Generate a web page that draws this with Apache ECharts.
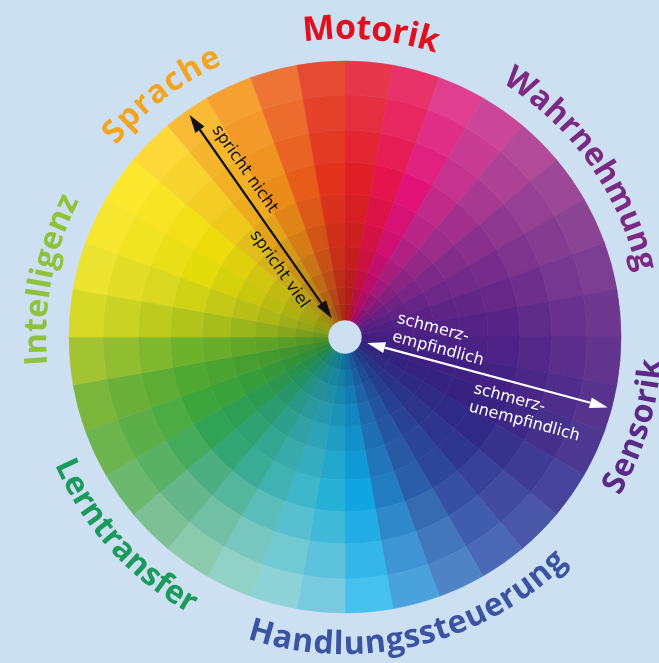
<!DOCTYPE html>
<html>
<head>
<meta charset="utf-8">
<script src="https://cdn.jsdelivr.net/npm/echarts@6/dist/echarts.min.js"></script>
<style>
html,body{margin:0;padding:0;background:#cde0f1;}
#wheel{width:659px;height:663px;}
</style>
</head>
<body>
<div id="wheel"></div>
<script>
// 36 Sektoren a 10 Grad, im Uhrzeigersinn ab 12 Uhr
var sectors = ['0','10','20','30','40','50','60','70','80','90','100','110',
    '120','130','140','150','160','170','180','190','200','210','220','230',
    '240','250','260','270','280','290','300','310','320','330','340','350'];
// Ringgrenzen (Radius), innen -> aussen
var ringEdges = [17, 33, 50, 68, 90, 115, 143, 175, 207, 242, 276];

// Farben je Sektor: aussen / Mitte / innen
var outerColors = ['#e5384a','#e8326a','#e03e8e','#cb4698','#b34a98','#9c4896','#8b4494','#7c3e92','#6e3890',
    '#62348e','#56348e','#4c3890','#46449c','#4a56a8','#4a68b6','#4e84c6','#4aa2dc','#46c0ec',
    '#78cade','#8cd2d6','#92d2c6','#8ccaae','#7ec096','#6cb86e','#6cb44e','#7ab63c','#a2c432',
    '#d6da26','#ece230','#f6e62e','#fde82e','#fcd838','#f9bb36','#f6a032','#ee7436','#e64a32'];
var midColors = ['#e01e26','#e4144c','#e21279','#c22a8a','#a2308c','#88308c','#762c8a','#662888','#582486',
    '#4c2286','#422084','#382282','#302a86','#2e368e','#2c469a','#2a5ea8','#227cc0','#10a4e0',
    '#26b2d6','#3cb6c8','#40b2b2','#3aac96','#34a676','#30a454','#3ca63c','#4ea832','#6eb22c',
    '#b0c41c','#d0d216','#e2dc0a','#ecdc0c','#eec81a','#eeac1c','#ec8c18','#e65c18','#e2321c'];
var innerColors = ['#a81e14','#b0103a','#a80c60','#901070','#781878','#661c80','#581e82','#4e1e82','#461e82',
    '#3e1e80','#38207e','#32247c','#2c2a7e','#263282','#203c88','#1c4890','#185898','#12689e',
    '#10749a','#127c94','#14808a','#18847a','#1c8660','#24884a','#2e8a38','#3c8c2c','#4e9224',
    '#72981e','#889c1a','#949c14','#9c9614','#a28a14','#a47414','#a65c14','#a84414','#aa2c14'];

// Beschriftung aussen
var domains = ['Motorik','Wahrnehmung','Sensorik','Handlungssteuerung','Lerntransfer','Intelligenz','Sprache'];
var domainColors = ['#e0101e','#7b2a84','#5b2a86','#3a54a4','#1a9b5c','#8dc23a','#f3a51f'];
var domainFrom = [94.9, 55.4, 331.5, 254.2, 205.4, 184.3, 138.4];
var domainTo   = [74.3, 14.3, 354, 313, 239.4, 154.3, 116];

var cx = 345, cy = 337, labelR = 308;

function hex(c){ return [parseInt(c.substr(1,2),16), parseInt(c.substr(3,2),16), parseInt(c.substr(5,2),16)]; }
function mix(a, b, t){
    var x = hex(a), y = hex(b);
    return 'rgb(' + [0,1,2].map(function(j){ return Math.round(x[j] + (y[j]-x[j])*t); }).join(',') + ')';
}
function ringColor(i, k){
    if (k >= 6) return mix(midColors[i], outerColors[i], (k-6)/3);
    return mix(innerColors[i], midColors[i], k/6);
}
function pt(deg, r){
    var a = deg*Math.PI/180;
    return [cx + r*Math.cos(a), cy - r*Math.sin(a)];
}

var wheel = echarts.init(document.getElementById('wheel'));

var series = [{
    type: 'bar', coordinateSystem: 'polar', stack: 'w', barCategoryGap: '0%',
    silent: true,
    itemStyle: { color: 'transparent' },
    data: sectors.map(function(){ return ringEdges[0]; })
}];
for (var k = 0; k < ringEdges.length-1; k++) {
    series.push({
        type: 'bar', coordinateSystem: 'polar', stack: 'w', barCategoryGap: '0%',
        silent: true,
        data: sectors.map(function(s, i){
            var c = ringColor(i, k);
            return { value: ringEdges[k+1]-ringEdges[k], itemStyle: { color: c, borderColor: c, borderWidth: 0.6 } };
        })
    });
}

// Text entlang des Kreises, Buchstabe fuer Buchstabe
var ctx = document.createElement('canvas').getContext('2d');
var graphics = [];
function arcText(text, a0, a1, r, size, color){
    var font = 'bold ' + size + 'px "Open Sans"';
    ctx.font = font;
    var centers = [];
    for (var i = 0; i < text.length; i++) {
        var w = ctx.measureText(text[i]).width;
        centers.push(ctx.measureText(text.slice(0, i)).width + w/2);
    }
    var first = centers[0], last = centers[centers.length-1];
    var outward = a1 < a0;
    for (var i = 0; i < text.length; i++) {
        var deg = a0 + (centers[i]-first)/(last-first)*(a1-a0);
        var p = pt(deg, r);
        var rot = outward ? deg - 90 : deg + 90;
        graphics.push({
            type: 'text', x: p[0], y: p[1], rotation: rot*Math.PI/180, z: 100, silent: true,
            style: { text: text[i], fill: color, fontSize: size, fontFamily: 'Open Sans', fontWeight: 'bold',
                align: 'center', verticalAlign: 'middle', textAlign: 'center', textVerticalAlign: 'middle' }
        });
    }
}
domains.forEach(function(d, i){
    arcText(d, domainFrom[i], domainTo[i], labelR, d === 'Motorik' ? 34 : 32, domainColors[i]);
});

// Doppelpfeile
function arrow(deg, r0, r1, color){
    var p0 = pt(deg, r0), p1 = pt(deg, r1);
    var dx = (p1[0]-p0[0]), dy = (p1[1]-p0[1]), len = Math.sqrt(dx*dx+dy*dy);
    dx /= len; dy /= len;
    var L = 18, W = 5.5;
    var b0 = [p0[0]+dx*L, p0[1]+dy*L], b1 = [p1[0]-dx*L, p1[1]-dy*L];
    graphics.push({ type: 'line', z: 100, silent: true, shape: { x1: b0[0], y1: b0[1], x2: b1[0], y2: b1[1] },
        style: { stroke: color, lineWidth: 2.2 } });
    graphics.push({ type: 'polygon', z: 100, silent: true, shape: { points: [p0, [b0[0]-dy*W, b0[1]+dx*W], [b0[0]+dy*W, b0[1]-dx*W]] },
        style: { fill: color } });
    graphics.push({ type: 'polygon', z: 100, silent: true, shape: { points: [p1, [b1[0]-dy*W, b1[1]+dx*W], [b1[0]+dy*W, b1[1]-dx*W]] },
        style: { fill: color } });
}
arrow(125, 23, 271, '#111111');
arrow(-15, 23, 272, '#ffffff');

// Text an den Pfeilen: Abstand entlang Strahl, seitlicher Versatz, Drehung
function rayText(text, deg, along, perp, rot, color, size, align){
    var a = deg*Math.PI/180, rr = rot*Math.PI/180;
    var ux = Math.cos(a), uy = -Math.sin(a);
    var nx = -Math.sin(rr), ny = -Math.cos(rr);
    graphics.push({
        type: 'text', z: 100, silent: true,
        x: cx + ux*along + nx*perp, y: cy + uy*along + ny*perp, rotation: rr,
        style: { text: text, fill: color, fontSize: size, fontFamily: 'DejaVu Sans', lineHeight: 19,
            align: align, verticalAlign: 'middle', textAlign: align, textVerticalAlign: 'middle' }
    });
}
rayText('spricht nicht', 125, 195, 14, -55, '#111111', 16.5, 'center');
rayText('spricht viel', 125, 93, -15, -55, '#111111', 16.5, 'center');
rayText('schmerz-\nempfindlich', -15, 46, 22, -15, '#ffffff', 16, 'left');
rayText('schmerz-\nunempfindlich', -15, 138, -26, -15, '#ffffff', 16, 'left');

var option = {
    backgroundColor: '#cde0f1',
    animation: false,
    polar: { center: [cx, cy], radius: [0, 276] },
    angleAxis: {
        type: 'category', data: sectors, startAngle: 90, clockwise: true,
        axisLine: { show: false }, axisTick: { show: false }, axisLabel: { show: false }, splitLine: { show: false }
    },
    radiusAxis: {
        type: 'value', min: 0, max: 276,
        axisLine: { show: false }, axisTick: { show: false }, axisLabel: { show: false }, splitLine: { show: false }
    },
    series: series,
    graphic: { elements: graphics }
};
wheel.setOption(option);
</script>
</body>
</html>
